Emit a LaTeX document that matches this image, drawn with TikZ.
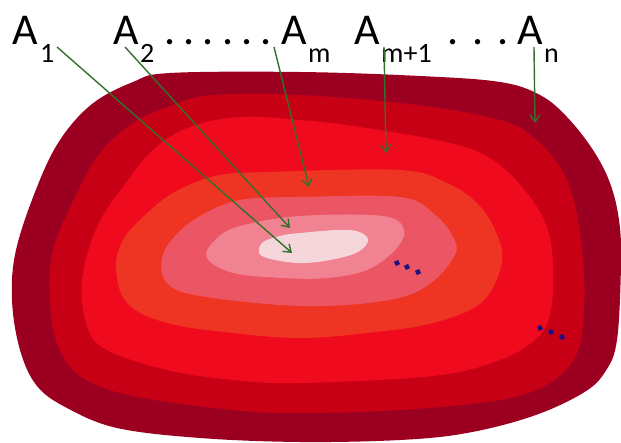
\documentclass[tikz,border=0pt]{standalone}
\usepackage{fontspec}
\setmainfont{Carlito}
\usetikzlibrary{arrows.meta}
\definecolor{lay1}{RGB}{155,0,32}
\definecolor{lay2}{RGB}{200,0,22}
\definecolor{lay3}{RGB}{240,10,30}
\definecolor{lay4}{RGB}{238,52,34}
\definecolor{lay5}{RGB}{236,86,100}
\definecolor{lay6}{RGB}{240,130,145}
\definecolor{lay7}{RGB}{245,214,218}
\definecolor{arrgreen}{RGB}{52,112,44}
\definecolor{dotnavy}{RGB}{30,16,130}
\begin{document}
\begin{tikzpicture}[x=1pt,y=-1pt,
  bigtxt/.style={anchor=base west,inner sep=0pt,font=\fontsize{44}{48}\selectfont},
  subtxt/.style={anchor=base west,inner sep=0pt,font=\fontsize{28}{32}\selectfont},
  pointer/.style={draw=arrgreen,line width=1.4pt,-{Straight Barb[length=7pt,width=10pt,line width=1.4pt]}},
  sq/.style={fill=dotnavy,inner sep=0pt,minimum size=4.6pt,rotate=25}]
\useasboundingbox (0,0) rectangle (621,443);
% layers
\fill[lay1] plot[smooth cycle,tension=0.6] coordinates {
 (170,73) (300,72) (420,76) (500,82) (540,95) (567,117) (593,150) (610,183) (619,220)
 (621,263) (617,340) (605,372) (583,393) (533,416) (467,433) (400,440) (300,442)
 (200,438) (117,428) (67,408) (37,386) (20,350) (12,300) (16,250) (37,187) (60,140) (92,104) (133,82)};
\fill[lay2] plot[smooth cycle,tension=0.6] coordinates {
 (213,95) (300,95) (417,105) (500,120) (533,137) (560,167) (575,205) (583,260) (584,310)
 (577,353) (550,383) (500,400) (400,410) (300,413) (233,410) (133,396) (80,376) (57,343)
 (50,300) (53,250) (77,193) (100,153) (133,123) (173,105)};
\fill[lay3] plot[smooth cycle,tension=0.6] coordinates {
 (240,117) (300,120) (360,127) (450,143) (493,160) (527,193) (547,227) (553,265) (551,310)
 (538,337) (500,360) (433,376) (300,383) (233,380) (167,370) (107,350) (87,326) (82,280)
 (97,227) (123,187) (153,150) (190,127)};
\fill[lay4] plot[smooth cycle,tension=0.6] coordinates {
 (267,172) (400,170) (447,183) (477,203) (495,230) (502,262) (482,302) (433,323) (367,333)
 (300,338) (233,333) (167,323) (127,303) (116,268) (123,240) (143,217) (173,193) (215,176)};
\fill[lay5] plot[smooth cycle,tension=0.6] coordinates {
 (300,197) (400,197) (433,213) (452,235) (455,255) (427,286) (383,301) (300,306)
 (200,296) (167,283) (162,258) (175,236) (200,216) (240,200)};
\fill[lay6] plot[smooth cycle,tension=0.6] coordinates {
 (300,216) (383,216) (404,230) (395,250) (367,270) (327,278) (283,278) (233,273)
 (207,258) (215,240) (240,226)};
\fill[lay7] plot[smooth cycle,tension=0.6] coordinates {
 (300,233) (350,230) (368,239) (358,252) (330,260) (297,263) (262,256) (262,243) (280,236)};
% dots
\node[sq] (d1) at (397,263) {};
\node[sq] (d2) at (407,267) {};
\node[sq] (d3) at (418,272) {};
\node[sq] (d4) at (540,328) {};
\node[sq] (d5) at (551,332) {};
\node[sq] (d6) at (562,337) {};
% labels
\node[bigtxt] (a1) at (12,45) {A};
\node[subtxt] (s1) at (40,63) {1};
\node[bigtxt] (a2) at (113,45) {A};
\node[subtxt] (s2) at (140,63) {2};
\node[bigtxt] (dots1) at (164,45) {.\hspace{8.2pt}.\hspace{8.2pt}.\hspace{8.2pt}.\hspace{8.2pt}.\hspace{8.2pt}.};
\node[bigtxt] (am) at (281,45) {A};
\node[subtxt] (sm) at (308,63) {m};
\node[bigtxt] (am1) at (354,45) {A};
\node[subtxt] (sm1) at (381,63) {m+1};
\node[bigtxt] (dots2) at (447,45) {.\hspace{14pt}.\hspace{14pt}.};
\node[bigtxt] (an) at (517,45) {A};
\node[subtxt] (sn) at (544,63) {n};
% arrow ends
\coordinate (p1) at (57,47);   \coordinate (q1) at (292,253);
\coordinate (p2) at (125,47);  \coordinate (q2) at (290,228);
\coordinate (p3) at (274,47);  \coordinate (q3) at (309,187);
\coordinate (p4) at (384,47);  \coordinate (q4) at (386,153);
\coordinate (p5) at (534,47);  \coordinate (q5) at (535,123);
\draw[pointer] (p1) -- (q1);
\draw[pointer] (p2) -- (q2);
\draw[pointer] (p3) -- (q3);
\draw[pointer] (p4) -- (q4);
\draw[pointer] (p5) -- (q5);
\end{tikzpicture}
\end{document}
